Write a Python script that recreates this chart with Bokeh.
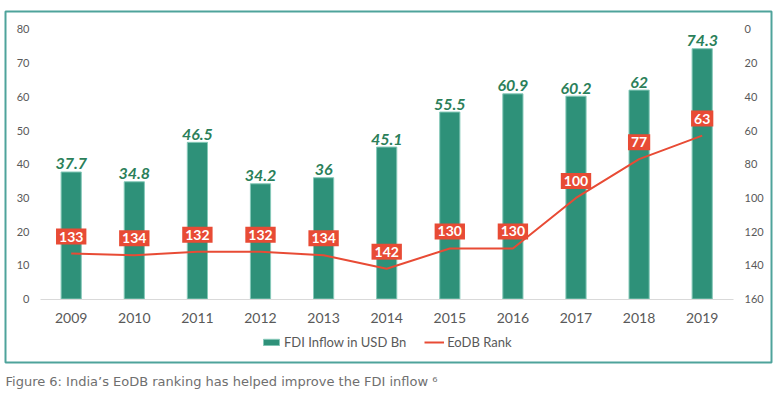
from bokeh.plotting import figure
from bokeh.models import (ColumnDataSource, Range1d, LinearAxis, FixedTicker,
                          Legend, LegendItem, BoxAnnotation, Label)
from bokeh.core.properties import value
from bokeh.embed import file_html
from bokeh.resources import INLINE

years = [2009, 2010, 2011, 2012, 2013, 2014, 2015, 2016, 2017, 2018, 2019]
fdi = [37.7, 34.8, 46.5, 34.2, 36, 45.1, 55.5, 60.9, 60.2, 62, 74.3]
fdi_labels = ["37.7", "34.8", "46.5", "34.2", "36", "45.1", "55.5", "60.9", "60.2", "62", "74.3"]
rank = [133, 134, 132, 132, 134, 142, 130, 130, 100, 77, 63]
rank_labels = [str(r) for r in rank]
left_ticks = [0, 10, 20, 30, 40, 50, 60, 70, 80]
right_ticks = [0, 20, 40, 60, 80, 100, 120, 140, 160]
caption_text = "Figure 6: India\u2019s EoDB ranking has helped improve the FDI inflow \u2076"

GREEN = "#2e9179"
GREEN_EDGE = "#86c9b9"
LABEL_GREEN = "#2b7f5a"
RED = "#e84b35"
GREY = "#595959"
BOX = "#4ea39b"
FONT = "Lato"

# ---- layout geometry (canvas pixels) ----
W, H = 779, 399
X_FIRST_PX, PX_PER_CAT = 70.7, 63.1      # centre of first category, spacing
Y0_PX, PX_PER_UNIT = 298.5, 3.369         # pixel row of value 0, pixels per unit


def xd(px):
    return years[0] + (px - X_FIRST_PX) / PX_PER_CAT


def yd(py):
    return (Y0_PX - py) / PX_PER_UNIT


def rank_of(v):   # right axis: 0 at left-axis 80, 160 at left-axis 0
    return 160 - 2 * v


src = ColumnDataSource(dict(year=years, fdi=fdi, fdi_label=fdi_labels,
                            rank=rank, rank_label=rank_labels))

p = figure(x_range=Range1d(xd(0), xd(W)), y_range=Range1d(yd(H), yd(0)),
           width=W, height=H, output_backend="svg", toolbar_location=None,
           x_axis_location=None, y_axis_location=None, min_border=0)
p.extra_y_ranges = {"rank": Range1d(start=rank_of(yd(H)), end=rank_of(yd(0)))}
p.outline_line_color = None
p.background_fill_color = "white"
p.border_fill_color = "white"
p.xgrid.grid_line_color = None
p.ygrid.grid_line_color = None

bars = p.vbar(x="year", top="fdi", width=0.32, source=src, fill_color=GREEN,
              line_color=GREEN_EDGE, line_width=1)
line = p.line(x="year", y="rank", source=src, y_range_name="rank", line_color=RED, line_width=2)

p.text(x="year", y="fdi", text="fdi_label", source=src, text_align="center",
       text_baseline="alphabetic", y_offset=-8, text_color=LABEL_GREEN,
       text_font=value(FONT), text_font_size="16px", text_font_style="bold italic")

p.text(x="year", y="rank", text="rank_label", source=src, y_range_name="rank",
       text_align="center", text_baseline="middle", y_offset=-17,
       text_color="white", text_font=value(FONT), text_font_size="14px",
       text_font_style="bold", background_fill_color=RED, padding=3)

# ---- axes ----
ax_y = LinearAxis(ticker=FixedTicker(ticks=left_ticks), fixed_location=xd(40), bounds=(0, 80))
ax_r = LinearAxis(y_range_name="rank", ticker=FixedTicker(ticks=right_ticks),
                  fixed_location=xd(733), bounds=(0, 160))
for ax in (ax_y, ax_r):
    ax.axis_line_color = None
    ax.major_tick_line_color = None
    ax.minor_tick_line_color = None
    ax.major_tick_out = 0
    ax.major_tick_in = 0
    ax.major_label_text_font = FONT
    ax.major_label_text_font_size = "11px"
    ax.major_label_text_color = GREY
ax_y.major_label_standoff = 11
ax_r.major_label_standoff = 11
p.add_layout(ax_y, "left")
p.add_layout(ax_r, "right")

xa = LinearAxis(ticker=FixedTicker(ticks=years), fixed_location=0, bounds=(xd(40), xd(733)))
xa.axis_line_color = "#d9d9d9"
xa.axis_line_width = 1
xa.major_tick_line_color = None
xa.minor_tick_line_color = None
xa.major_tick_out = 0
xa.major_tick_in = 0
xa.major_label_standoff = 14
xa.major_label_text_font = FONT
xa.major_label_text_font_size = "14px"
xa.major_label_text_color = GREY
p.add_layout(xa, "below")

# ---- legend ----
legend = Legend(items=[LegendItem(label="FDI Inflow in USD Bn", renderers=[bars]),
                       LegendItem(label="EoDB Rank", renderers=[line])],
                orientation="horizontal", location=(261, 49), glyph_width=20, glyph_height=8,
                label_standoff=3, spacing=18, padding=0, margin=0, border_line_color=None,
                label_text_font=FONT, label_text_font_size="13px", label_text_color=GREY,
                label_height=16, background_fill_alpha=0)
p.add_layout(legend)

# ---- outer box and caption ----
p.add_layout(BoxAnnotation(left=xd(5), right=xd(771), top=yd(11), bottom=yd(362),
                           fill_alpha=0, line_color=BOX, line_alpha=1, line_width=2))
p.add_layout(Label(x=xd(5), y=yd(381), text=caption_text,
                   text_baseline="middle", text_align="left", text_font="DejaVu Sans",
                   text_font_size="13px", text_color="#6f6f6f"))

open("out.html", "w").write(file_html(p, INLINE))
